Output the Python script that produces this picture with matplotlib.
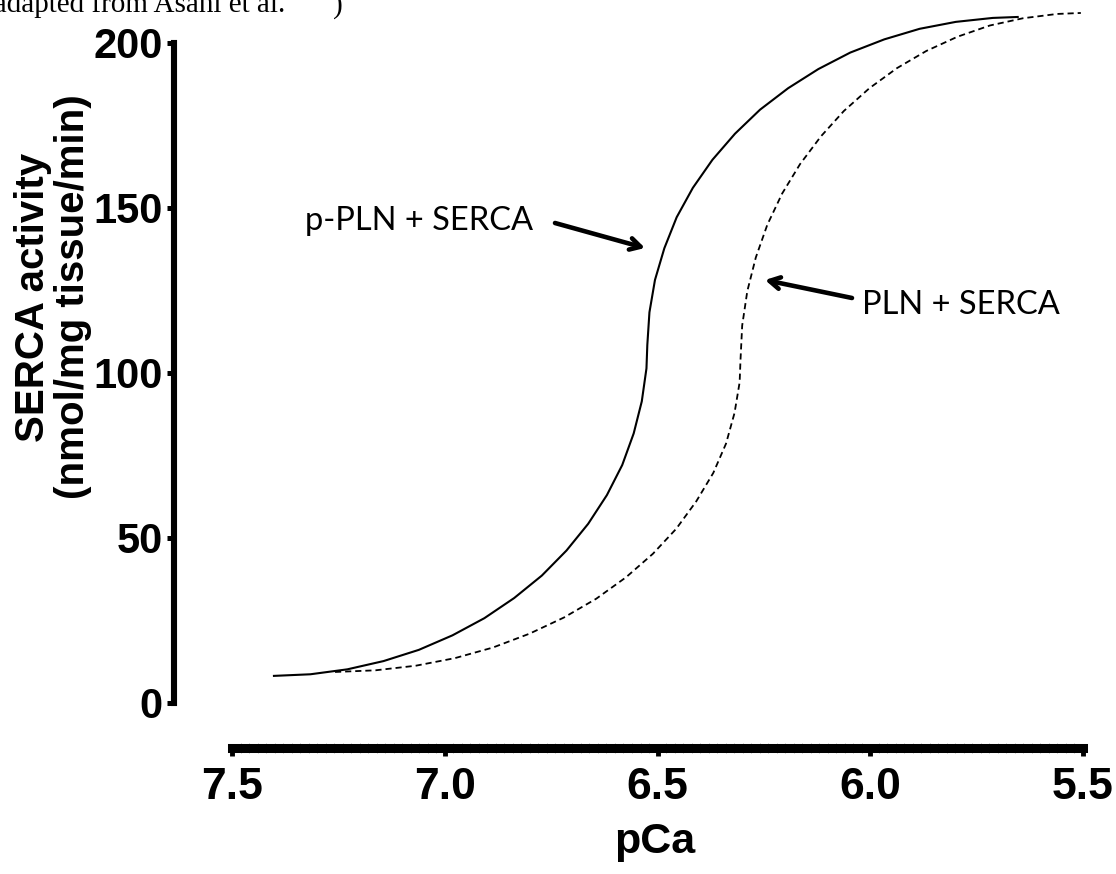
import matplotlib
matplotlib.use('Agg')
import matplotlib.pyplot as plt
import numpy as np
from matplotlib.ticker import FixedLocator

# ---- data ----
pca_ppln = [7.404, 7.316, 7.229, 7.144, 7.061, 6.982, 6.907, 6.837, 6.772, 6.714,
            6.663, 6.619, 6.583, 6.556, 6.537, 6.526, 6.524,
            6.519, 6.506, 6.484, 6.455, 6.417, 6.371, 6.318, 6.259, 6.193,
            6.122, 6.047, 5.967, 5.884, 5.799, 5.712, 5.651]
act_ppln = [8.2, 8.7, 10.2, 12.7, 16.1, 20.5, 25.7, 31.8, 38.6, 46.2,
            54.3, 63.0, 72.1, 81.7, 91.4, 101.4, 108.5,
            118.4, 128.2, 137.8, 147.2, 156.1, 164.6, 172.5, 179.8, 186.3,
            192.1, 197.1, 201.1, 204.3, 206.4, 207.6, 207.9]

pca_pln = [7.258, 7.163, 7.068, 6.976, 6.887, 6.801, 6.720, 6.644, 6.574, 6.511,
           6.456, 6.409, 6.369, 6.339, 6.319, 6.307, 6.305,
           6.301, 6.289, 6.269, 6.242, 6.207, 6.165, 6.116, 6.062, 6.002,
           5.937, 5.868, 5.795, 5.719, 5.641, 5.561, 5.505]
act_pln = [9.4, 9.9, 11.3, 13.6, 16.8, 21.0, 25.9, 31.6, 38.1, 45.2,
           52.8, 61.1, 69.7, 78.6, 87.9, 97.2, 103.9,
           114.4, 124.8, 135.0, 144.9, 154.4, 163.3, 171.7, 179.4, 186.3,
           192.4, 197.6, 201.9, 205.3, 207.5, 208.8, 209.1]

x_ticks = [7.5, 7.0, 6.5, 6.0, 5.5]
x_ticklabels = ['7.5', '7.0', '6.5', '6.0', '5.5']
y_ticks = [0, 50, 100, 150, 200]
y_ticklabels = ['0', '50', '100', '150', '200']

label_ppln = 'p-PLN + SERCA'
label_pln = 'PLN + SERCA'
x_title = 'pCa'
y_title = 'SERCA activity\n(nmol/mg tissue/min)'
source_note = '(adapted from Asahi et al.'

# ---- figure ----
W, H = 1116, 874
fig = plt.figure(figsize=(W / 100, H / 100), dpi=100)


def fx(px):
    return px / W


def fy(py):
    return 1 - py / H


ax = fig.add_axes([fx(174), fy(748), fx(1086) - fx(174), fy(10) - fy(748)])
ax.set_xlim(7.6365, 5.4929)
ax.set_ylim(-13.64, 210.0)

ax.plot(pca_ppln, act_ppln, color='black', lw=1.5, solid_capstyle='butt',
        solid_joinstyle='round')
ax.plot(pca_pln, act_pln, color='black', lw=1.3, linestyle=(0, (3.4, 2.2)))

for s in ['top', 'right']:
    ax.spines[s].set_visible(False)
ax.spines['left'].set_linewidth(4.4)
ax.spines['left'].set_bounds(0, 200)
ax.spines['bottom'].set_linewidth(6.5)
ax.spines['bottom'].set_bounds(7.5, 5.5)

ax.xaxis.set_major_locator(FixedLocator(x_ticks))
ax.set_xticklabels(x_ticklabels)
minor_pos = [v for v in np.linspace(5.5, 7.5, 101)
             if min(abs(v - t) for t in x_ticks) > 1e-6]
ax.xaxis.set_minor_locator(FixedLocator(minor_pos))
ax.yaxis.set_major_locator(FixedLocator(y_ticks))
ax.set_yticklabels(y_ticklabels)

ax.tick_params(axis='x', which='major', direction='out', length=5.5, width=3.5,
               pad=8, labelsize=32)
ax.tick_params(axis='x', which='minor', direction='inout', length=6.5, width=0.5,
               color='#9a9a9a')
ax.tick_params(axis='y', which='major', direction='out', length=5, width=3.6,
               pad=3, labelsize=30)

for lab in ax.get_xticklabels():
    lab.set_fontfamily(['Liberation Sans', 'DejaVu Sans'])
    lab.set_fontweight('bold')
for lab in ax.get_yticklabels():
    lab.set_fontfamily(['Liberation Sans', 'DejaVu Sans'])
    lab.set_fontweight('bold')

# axis titles
fig.text(fx(655), fy(842), x_title, ha='center', va='center', fontsize=31,
         fontweight='bold', family=['Liberation Sans', 'DejaVu Sans'])
fig.text(fx(53), fy(297), y_title, ha='center', va='center', rotation=90,
         fontsize=29, fontweight='bold', linespacing=1.05, multialignment='center',
         family=['Liberation Sans', 'DejaVu Sans'])

# annotations
fig.text(fx(305), fy(221), label_ppln, ha='left', va='center', fontsize=23.5,
         family=['Lato', 'DejaVu Sans'])
fig.text(fx(862), fy(305), label_pln, ha='left', va='center', fontsize=23.5,
         family=['Lato', 'DejaVu Sans'])

arrow_kw = dict(arrowstyle='->,head_length=0.75,head_width=0.42', lw=3.3,
                color='black', shrinkA=0, shrinkB=0)
ax.annotate('', xy=(645, H - 248), xycoords='figure pixels',
            xytext=(555, H - 223), textcoords='figure pixels', arrowprops=arrow_kw)
ax.annotate('', xy=(765, H - 280), xycoords='figure pixels',
            xytext=(852, H - 298), textcoords='figure pixels', arrowprops=arrow_kw)

# clipped source note at the top edge (cut off in the reference as well)
fig.text(fx(-16), fy(13), source_note, ha='left', va='baseline', fontsize=21,
         family=['Liberation Serif', 'DejaVu Serif'])
fig.text(fx(333), fy(13), ')', ha='left', va='baseline', fontsize=21,
         family=['Liberation Serif', 'DejaVu Serif'])

fig.savefig('out.png', dpi=100)
